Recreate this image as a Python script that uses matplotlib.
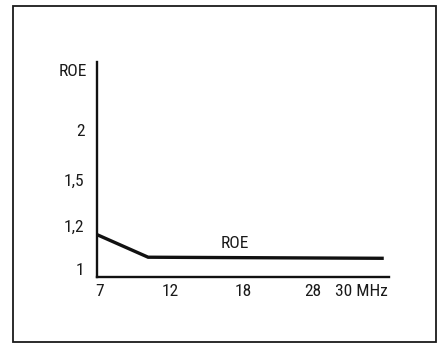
import numpy as np
import matplotlib as mpl
mpl.use("Agg")
import matplotlib.pyplot as plt
from matplotlib.patches import Rectangle
import matplotlib.transforms as mtransforms

plt.rcParams['font.family'] = ['Roboto Condensed', 'DejaVu Sans']
plt.rcParams['font.size'] = 12.5

# ROE (SWR) vs frequency
freq = [7, 10.5, 30]          # MHz
roe = [1.16, 1.055, 1.05]

xticks = [7, 12, 18, 28, 30]
xticklabels = ['7', '12', '18', '28', '30 MHz']
yticks = [1, 1.2, 1.5, 2]
yticklabels = ['1', '1,2', '1,5', '2']

# the drawing is not to scale: tick spacing taken from the figure (pixels)
xpos = [97, 170, 243, 313, 382]
ypos = [-269, -226, -180, -130]


def piecewise(vals, pos):
    vals = np.asarray(vals, float)
    pos = np.asarray(pos, float)
    s0 = (pos[1] - pos[0]) / (vals[1] - vals[0])
    sn = (pos[-1] - pos[-2]) / (vals[-1] - vals[-2])

    def fwd(v):
        v = np.asarray(v, float)
        return np.where(v < vals[0], pos[0] + (v - vals[0]) * s0,
                        np.where(v > vals[-1], pos[-1] + (v - vals[-1]) * sn,
                                 np.interp(v, vals, pos)))

    def inv(p):
        p = np.asarray(p, float)
        return np.where(p < pos[0], vals[0] + (p - pos[0]) / s0,
                        np.where(p > pos[-1], vals[-1] + (p - pos[-1]) / sn,
                                 np.interp(p, pos, vals)))
    return fwd, inv


fig = plt.figure(figsize=(4.4, 3.44), dpi=100)
fig.patch.set_facecolor('white')
fig.patches.append(Rectangle((13 / 440, 2 / 344), 423 / 440, 336 / 344,
                             transform=fig.transFigure, fill=False,
                             edgecolor='#1a1a1a', linewidth=1.3))

ax = fig.add_axes([97 / 440, 1 - 277 / 344, 292 / 440, 215 / 344])
ax.set_xscale('function', functions=piecewise(xticks, xpos))
ax.set_yscale('function', functions=piecewise(yticks, ypos))
ax.set_xlim(7, 30.2)
ax.set_ylim(0.963, 2.68)

ax.plot(freq, roe, color='#111111', linewidth=2.4, solid_joinstyle='miter')
ax.text(17.3, 1.12, 'ROE', ha='center', va='center', color='#1a1a1a')

for side in ['top', 'right']:
    ax.spines[side].set_visible(False)
for side in ['left', 'bottom']:
    ax.spines[side].set_linewidth(1.7)
    ax.spines[side].set_color('#111111')

ax.set_xticks(xticks)
ax.set_xticklabels(xticklabels)
ax.set_yticks(yticks)
ax.set_yticklabels(yticklabels)
ax.tick_params(length=0, colors='#1a1a1a')
ax.tick_params(axis='y', pad=9)
ax.tick_params(axis='x', pad=5)
ax.minorticks_off()

first = ax.get_xticklabels()[0]
first.set_transform(first.get_transform() + mtransforms.ScaledTranslation(3 / 100, 0, fig.dpi_scale_trans))
last = ax.get_xticklabels()[-1]
last.set_horizontalalignment('right')
last.set_transform(last.get_transform() + mtransforms.ScaledTranslation(6 / 100, 0, fig.dpi_scale_trans))

fig.text(87 / 440, 1 - 71 / 344, 'ROE', ha='right', va='center', color='#1a1a1a')

fig.savefig('out.png', dpi=100, facecolor='white')
